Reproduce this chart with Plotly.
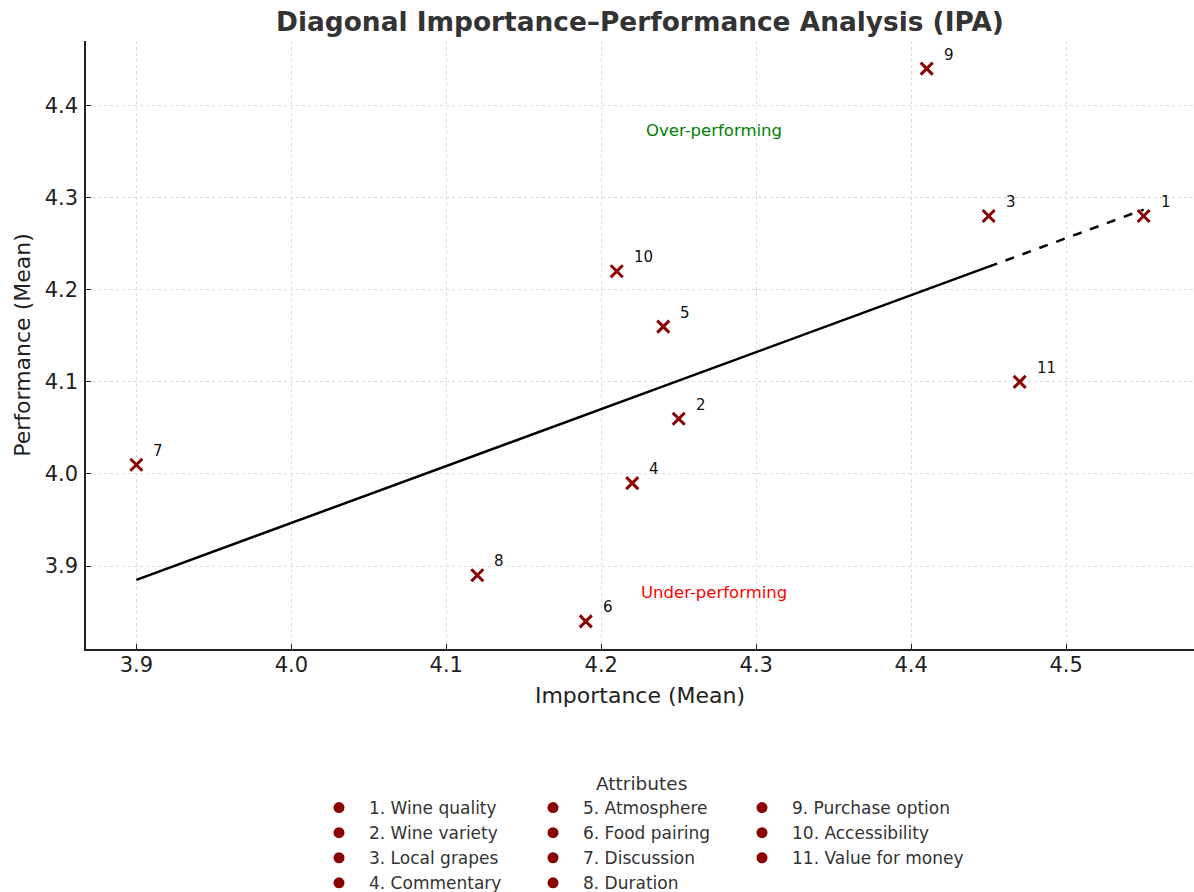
import plotly.graph_objects as go

attributes = ["Wine quality", "Wine variety", "Local grapes", "Commentary", "Atmosphere",
              "Food pairing", "Discussion", "Duration", "Purchase option", "Accessibility",
              "Value for money"]
importance = [4.55, 4.25, 4.45, 4.22, 4.24, 4.19, 3.90, 4.12, 4.41, 4.21, 4.47]
performance = [4.28, 4.06, 4.28, 3.99, 4.16, 3.84, 4.01, 3.89, 4.44, 4.22, 4.10]

diag_solid_x = [3.90, 4.45]
diag_solid_y = [3.885, 4.225]
diag_dash_x = [4.45, 4.55]
diag_dash_y = [4.225, 4.287]

region_labels = ["Over-performing", "Under-performing"]
region_x = [4.273, 4.273]
region_y = [4.373, 3.871]
region_colors = ["green", "red"]

x_ticks = [3.9, 4.0, 4.1, 4.2, 4.3, 4.4, 4.5]
y_ticks = [3.9, 4.0, 4.1, 4.2, 4.3, 4.4]

FONT = "DejaVu Sans"
DARKRED = "#8B0000"
W, H = 1194, 892
ML, MR, MT, MB = 86, 0, 41, 243
PW, PH = W - ML - MR, H - MT - MB


def px_to_paper(px, py):
    return (px - ML) / PW, (H - MB - py) / PH


fig = go.Figure()

fig.add_trace(go.Scatter(x=diag_solid_x, y=diag_solid_y, mode="lines",
                         line=dict(color="black", width=2.5), showlegend=False,
                         hoverinfo="skip"))
fig.add_trace(go.Scatter(x=diag_dash_x, y=diag_dash_y, mode="lines",
                         line=dict(color="black", width=2.5, dash="dash"),
                         showlegend=False, hoverinfo="skip"))

fig.add_trace(go.Scatter(
    x=importance, y=performance, mode="markers",
    marker=dict(symbol="x-thin", size=12, color=DARKRED,
                line=dict(color=DARKRED, width=3)),
    showlegend=False,
))

# point number labels
for i, (xv, yv) in enumerate(zip(importance, performance)):
    fig.add_annotation(x=xv, y=yv, text=str(i + 1), showarrow=False,
                       xanchor="left", yanchor="middle", xshift=15, yshift=14,
                       font=dict(family=FONT, size=15, color="#111"))

for t, xv, yv, c in zip(region_labels, region_x, region_y, region_colors):
    fig.add_annotation(x=xv, y=yv, text=t, showarrow=False,
                       font=dict(family=FONT, size=16.5, color=c))

# legend-only entries, three columns
legend_names = ["legend", "legend2", "legend3"]
for i, name in enumerate(attributes):
    col = i // 4
    fig.add_trace(go.Scatter(
        x=[None], y=[None], mode="markers", name=f"{i + 1}. {name}",
        marker=dict(symbol="circle", size=11, color=DARKRED),
        legend=legend_names[col], showlegend=True,
    ))

legend_common = dict(
    xref="paper", yref="paper", xanchor="left", yanchor="top",
    font=dict(family=FONT, size=17, color="#333"), itemwidth=50,
    bgcolor="rgba(0,0,0,0)", tracegroupgap=0, orientation="v",
)
_, legend_y = px_to_paper(0, 790)

ax_, ay_ = px_to_paper(641, 783)
fig.add_annotation(xref="paper", yref="paper", x=ax_, y=ay_,
                   text="Attributes", showarrow=False, xanchor="center", yanchor="middle",
                   font=dict(family=FONT, size=18.5, color="#333"))

axis_common = dict(
    showline=True, linecolor="#222", linewidth=1.5, mirror=False,
    ticks="inside", ticklen=5, tickwidth=1.2, tickcolor="#222",
    showgrid=True, gridcolor="#dcdcdc", gridwidth=1, griddash="dot",
    zeroline=False,
    tickfont=dict(family=FONT, size=21, color="#222"),
)

fig.update_layout(
    width=W, height=H,
    margin=dict(l=ML, r=MR, t=MT, b=MB, autoexpand=False),
    paper_bgcolor="white", plot_bgcolor="white",
    font=dict(family=FONT, color="#222"),
    title=dict(text="<b>Diagonal Importance–Performance Analysis (IPA)</b>",
               x=0.5, xref="paper", xanchor="center", y=1 - 22 / H, yref="container",
               yanchor="middle", font=dict(family=FONT, size=26.4, color="#333")),
    xaxis=dict(range=[3.8675, 4.5825], tickvals=x_ticks,
               ticktext=[f"{v:.1f}" for v in x_ticks],
               title=dict(text="Importance (Mean)", standoff=12,
                          font=dict(family=FONT, size=22, color="#222")),
               ticklabelstandoff=-4, **axis_common),
    yaxis=dict(range=[3.81, 4.47], tickvals=y_ticks,
               ticktext=[f"{v:.1f}" for v in y_ticks],
               title=dict(text="Performance (Mean)", standoff=8,
                          font=dict(family=FONT, size=22, color="#222")),
               ticklabelstandoff=2, **axis_common),
    legend=dict(x=px_to_paper(309, 0)[0], y=legend_y, **legend_common),
    legend2=dict(x=px_to_paper(523, 0)[0], y=legend_y, **legend_common),
    legend3=dict(x=px_to_paper(732, 0)[0], y=legend_y, **legend_common),
    showlegend=True,
)

fig.write_html("out.html", config={"displayModeBar": False},
               post_script="document.body.style.margin='0';")
